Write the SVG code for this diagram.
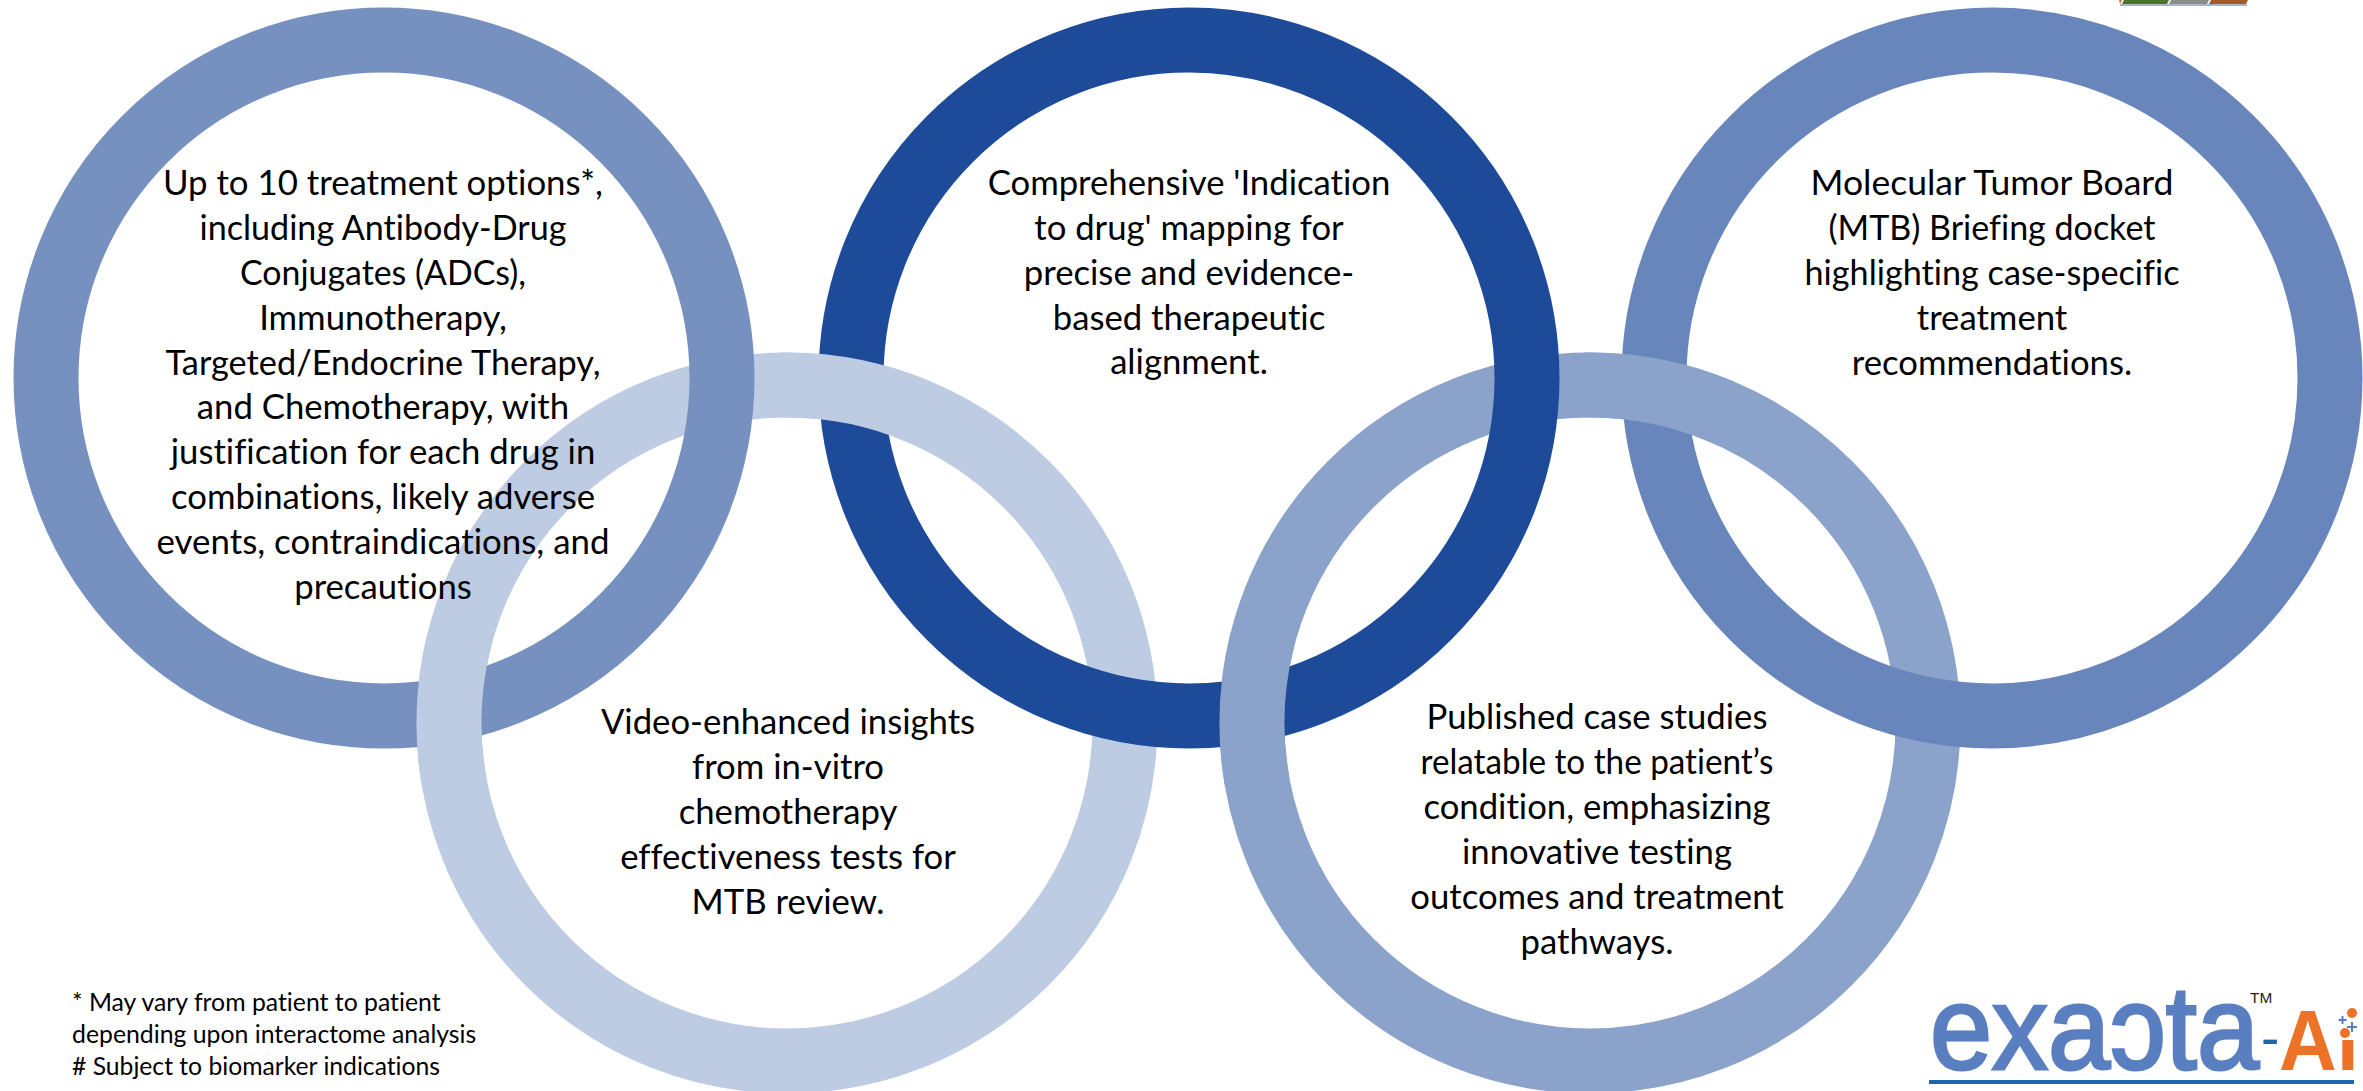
<svg xmlns="http://www.w3.org/2000/svg" width="2363" height="1091" viewBox="0 0 2363 1091">
<style>
.r{fill:none;stroke-width:65}
.a{stroke:#7690c0}.b{stroke:#bdcbe3}.c{stroke:#1e4b99}.d{stroke:#8ba3ca}.e{stroke:#6886bb}
text{font-family:"Lato","Carlito","Liberation Sans",sans-serif;fill:#000;font-variant-ligatures:none}
.t{font-size:34.7px;text-anchor:middle}
.f{font-size:24.8px}
#logo text{font-family:"Liberation Sans",Arial,sans-serif}
</style>
<defs>
<clipPath id="nodot"><path d="M2270 990H2339V1040H2370V1075H2270Z"/></clipPath>
</defs>
<rect width="2363" height="1091" fill="#fff"/>
<g id="node2">
<circle class="r b" cx="787" cy="723" r="338"/>
<g class="t" transform="translate(0 1)">
<text x="788" y="733">Video-enhanced insights</text>
<text x="788" y="778">from in-vitro</text>
<text x="788" y="823">chemotherapy</text>
<text x="788" y="868">effectiveness tests for</text>
<text x="788" y="913">MTB review.</text>
</g>
</g>
<g id="node1">
<circle class="r a" cx="384" cy="378" r="338"/>
<g class="t" transform="translate(0 1)">
<text x="383" y="194" textLength="440" lengthAdjust="spacingAndGlyphs">Up to 10 treatment options*,</text>
<text x="383" y="239" textLength="367" lengthAdjust="spacingAndGlyphs">including Antibody-Drug</text>
<text x="383" y="284" textLength="286" lengthAdjust="spacingAndGlyphs">Conjugates (ADCs),</text>
<text x="383" y="329">Immunotherapy,</text>
<text x="383" y="374" textLength="435" lengthAdjust="spacingAndGlyphs">Targeted/Endocrine Therapy,</text>
<text x="383" y="418">and Chemotherapy, with</text>
<text x="383" y="463">justification for each drug in</text>
<text x="383" y="508">combinations, likely adverse</text>
<text x="383" y="553" textLength="453" lengthAdjust="spacingAndGlyphs">events, contraindications, and</text>
<text x="383" y="598">precautions</text>
</g>
</g>
<g id="node4">
<circle class="r d" cx="1590" cy="723" r="338"/>
<g class="t" transform="translate(0 1)">
<text x="1597" y="728">Published case studies</text>
<text x="1597" y="773" textLength="353" lengthAdjust="spacingAndGlyphs">relatable to the patient’s</text>
<text x="1597" y="818">condition, emphasizing</text>
<text x="1597" y="863">innovative testing</text>
<text x="1597" y="908">outcomes and treatment</text>
<text x="1597" y="953">pathways.</text>
</g>
</g>
<g id="node3">
<circle class="r c" cx="1189" cy="378" r="338"/>
<g class="t" transform="translate(0 1)">
<text x="1189" y="194">Comprehensive 'Indication</text>
<text x="1189" y="239">to drug' mapping for</text>
<text x="1189" y="284">precise and evidence-</text>
<text x="1189" y="329">based therapeutic</text>
<text x="1189" y="373">alignment.</text>
</g>
</g>
<g id="node5">
<circle class="r e" cx="1992" cy="378" r="338"/>
<g class="t" transform="translate(0 1)">
<text x="1992" y="194" textLength="363" lengthAdjust="spacingAndGlyphs">Molecular Tumor Board</text>
<text x="1992" y="239" textLength="327" lengthAdjust="spacingAndGlyphs">(MTB) Briefing docket</text>
<text x="1992" y="284" textLength="375" lengthAdjust="spacingAndGlyphs">highlighting case-specific</text>
<text x="1992" y="329">treatment</text>
<text x="1992" y="374">recommendations.</text>
</g>
</g>
<g id="weave">
<path class="r b" d="M453.9 780.5A338 338 0 0 1 459.3 640.1"/>
<path class="r b" d="M781.1 385.1A338 338 0 0 1 919.1 411.9"/>
<path class="r d" d="M1256.9 780.500A338 338 0 0 1 1262.3 640.1"/>
<path class="r d" d="M1584.1 385.1A338 338 0 0 1 1722.1 411.9"/>
</g>
<g id="footnote" class="f">
<text x="72" y="1011">* May vary from patient to patient</text>
<text x="72" y="1043">depending upon interactome analysis</text>
<text x="72" y="1075" textLength="368" lengthAdjust="spacingAndGlyphs"># Subject to biomarker indications</text>
</g>
<g id="logo">
<text x="1930" y="1069" font-size="118" textLength="329" lengthAdjust="spacingAndGlyphs" stroke="#5a7fc0" stroke-width="3" style="fill:#5a7fc0">exaɔta</text>
<text x="2261" y="1057" font-size="55" style="fill:#2064aa">-</text>
<g clip-path="url(#nodot)"><text transform="translate(2279 1070) scale(.94 1)" font-size="85" font-weight="700" style="fill:#ec7228">Ai</text></g>
<text x="2250" y="1003" font-size="15.4" style="fill:#222">TM</text>
<circle cx="2345" cy="1033" r="5" fill="#ec7228"/>
<circle cx="2352" cy="1013" r="5" fill="#ec7228"/>
<path d="M2338.5 1020h8M2342.500 1016v8M2347 1027h10M2352 1022v10" stroke="#5a7fc0" stroke-width="2" fill="none"/>
<rect x="1929" y="1080" width="425" height="4" fill="#1f65ad"/>
</g>
<g id="topbar">
<path d="M2119 0H2122L2120 4Z" fill="#c8702c"/>
<path d="M2124 0H2169L2167 4H2122Z" fill="#4a7530"/>
<path d="M2171 0H2209L2207 4H2169Z" fill="#8c8c8c"/>
<path d="M2211 0H2248L2246 4H2209Z" fill="#a85a25"/>
<path d="M2120 5H2247" stroke="#aab4c6" stroke-width="2" fill="none"/>
</g>
</svg>
